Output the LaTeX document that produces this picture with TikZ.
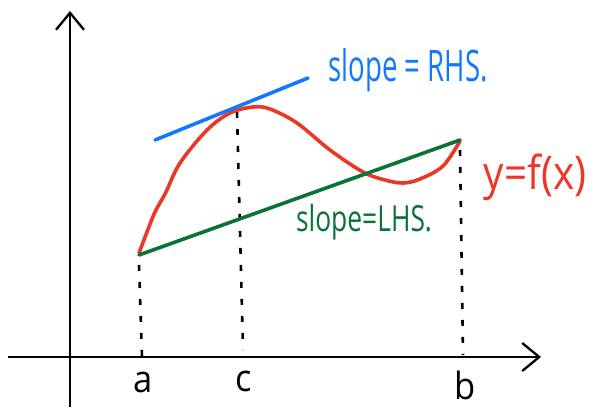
\documentclass[tikz,border=0pt]{standalone}
\usepackage{fontspec}
\setmainfont{Open Sans}
\usetikzlibrary{arrows.meta}
\definecolor{myblue}{RGB}{20,120,255}
\definecolor{myred}{RGB}{235,55,40}
\definecolor{mygreen}{RGB}{10,115,55}
\tikzset{
  axisline/.style={line width=2.3pt,-{Straight Barb[length=17pt,width=28pt,line width=2.3pt]}},
  guide/.style={line width=2.6pt,dash pattern=on 6pt off 11pt},
  lbl/.style={inner sep=0pt,font=\fontsize{30}{34}\selectfont},
  pen/.style={line width=3.6pt,line cap=round,line join=round}
}
\begin{document}
\begin{tikzpicture}[x=1pt,y=-1pt]
\useasboundingbox (0,0) rectangle (596,407);
% points
\coordinate (A) at (139,255);
\coordinate (B) at (460,140);
\coordinate (xs) at (8,357);
\coordinate (xe) at (541,357);
\coordinate (ys) at (70,407);
\coordinate (ye) at (70,11);
\coordinate (Ax) at (142,357);
\coordinate (Cx) at (243,350);
\coordinate (Bx) at (463,355);
\coordinate (Ct) at (237,112);
\coordinate (Bt) at (460,150);
\coordinate (Ad) at (139,265);
\coordinate (L1) at (155,140);
\coordinate (L2) at (308,78);
% axes
\draw[axisline] (xs) -- (xe);
\draw[axisline] (ys) -- (ye);
% guides
\draw[guide] (Ad) -- (Ax);
\draw[guide] (Ct) -- (Cx);
\draw[guide] (Bt) -- (Bx);
% curve
\draw[myred,pen] plot[smooth,tension=0.55] coordinates
 {(139,253) (147,232) (155,212) (166,192) (180,163) (207,130) (230,113) (253,107) (270,109) (297,123) (330,150) (363,172) (385,180) (403,183) (420,179) (443,166) (460,141)};
% secant
\draw[mygreen,pen] (A) -- (B);
% tangent
\draw[myblue,pen] (L1) -- (L2);
% labels
\node[lbl,text=myblue,anchor=center] (rhs) at (408,70) {\scalebox{0.92}[1.45]{slope = RHS.}};
\node[lbl,text=mygreen,anchor=center] (lhs) at (364,222) {\scalebox{0.88}[1.2]{slope=LHS.}};
\node[lbl,text=myred,anchor=center] (fx) at (535,177) {\scalebox{1.35}[1.55]{y=f(x)}};
\node[lbl,anchor=center] (la) at (143,382) {\scalebox{1.15}[1.25]{a}};
\node[lbl,anchor=center] (lc) at (244,381) {\scalebox{1.15}[1.25]{c}};
\node[lbl,anchor=center] (lb) at (465,385) {\scalebox{1.15}[1.25]{b}};
\end{tikzpicture}
\end{document}
